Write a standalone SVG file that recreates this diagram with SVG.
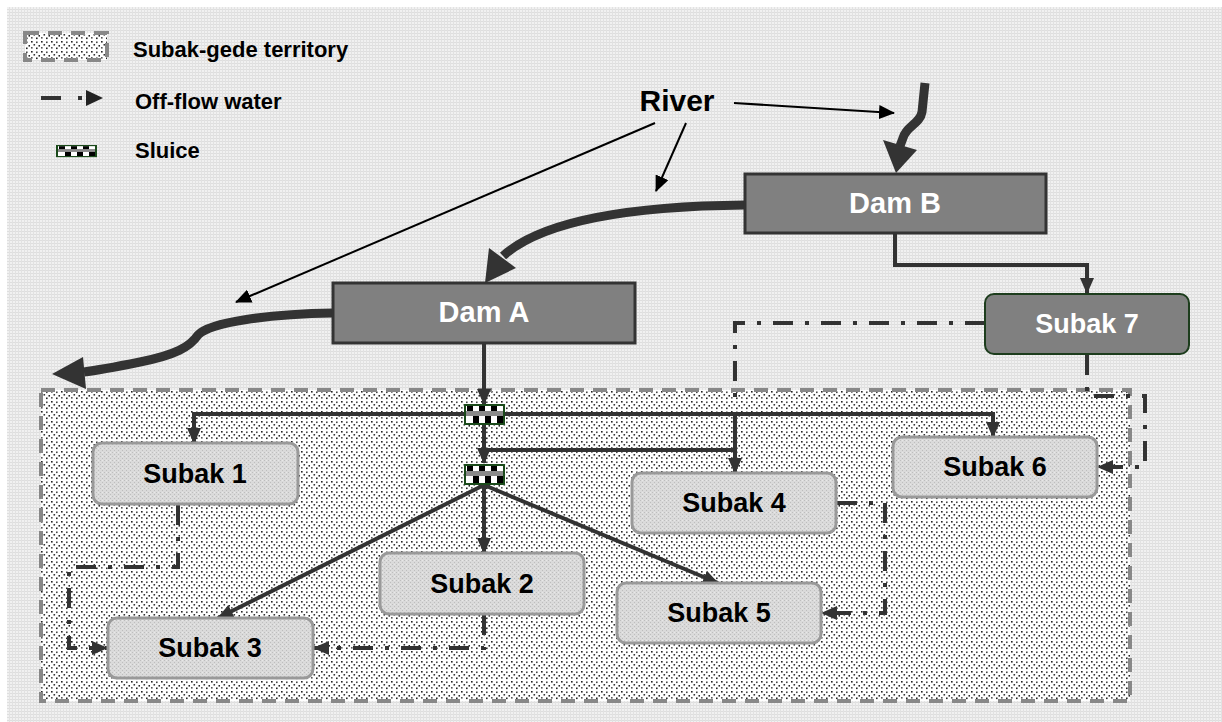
<svg xmlns="http://www.w3.org/2000/svg" width="1222" height="722" viewBox="0 0 1222 722">
<style>
.lbl{font-family:"Liberation Sans",Arial,sans-serif;font-weight:bold;}
.dam{fill:#808080;stroke:#333;stroke-width:3;}
.damt{fill:#fff;font-size:29px;text-anchor:middle;}
.sub{fill:url(#hatch);stroke:#999;stroke-width:3;}
.subt{fill:#000;font-size:27px;text-anchor:middle;}
.s7{fill:#808080;stroke:#1d3d1d;stroke-width:2;}
.flow{fill:none;stroke:#333;stroke-width:4;}
.off{fill:none;stroke:#333;stroke-width:4;stroke-dasharray:20 12 4 12;}
.river{fill:none;stroke:#333;stroke-width:9;}
.rhead{fill:#333;}
.thin{fill:none;stroke:#000;stroke-width:2;}
.leg{fill:#000;font-size:22px;}
.terr{fill:url(#dots);stroke:#888;stroke-width:4;stroke-dasharray:14 9;}
</style>
<defs>
<pattern id="grid" width="3" height="3" patternUnits="userSpaceOnUse">
<rect width="3" height="3" fill="#f1f1f1"/>
<rect width="3" height="1" fill="#dedede"/>
<rect width="1" height="3" fill="#e2e2e2"/>
</pattern>
<pattern id="dots" width="10" height="10" patternUnits="userSpaceOnUse">
<rect width="10" height="10" fill="#fff"/>
<rect x="1" y="1" width="1.6" height="1.6" fill="#222"/>
<rect x="6" y="1.5" width="1.6" height="1.6" fill="#444"/>
<rect x="3.5" y="4" width="1.6" height="1.6" fill="#333"/>
<rect x="8.5" y="5" width="1.6" height="1.6" fill="#222"/>
<rect x="1" y="7" width="1.6" height="1.6" fill="#555"/>
<rect x="6" y="7.5" width="1.6" height="1.6" fill="#222"/>
</pattern>
<pattern id="hatch" width="4" height="4" patternUnits="userSpaceOnUse">
<rect width="4" height="4" fill="#dadada"/>
<rect x="0" y="0" width="1" height="1" fill="#bdbdbd"/>
<rect x="2" y="2" width="1" height="1" fill="#bdbdbd"/>
<rect x="2" y="0" width="1" height="1" fill="#e8e8e8"/>
</pattern>
<g id="sluiceG">
<rect x="0" y="0" width="41" height="21" fill="#fff"/>
<rect x="3" y="2" width="6" height="8" fill="#000"/>
<rect x="15" y="2" width="6" height="8" fill="#000"/>
<rect x="27" y="2" width="6" height="8" fill="#000"/>
<rect x="9" y="11" width="6" height="8" fill="#000"/>
<rect x="21" y="11" width="6" height="8" fill="#000"/>
<rect x="33" y="11" width="6" height="8" fill="#000"/>
<rect x="0" y="7" width="41" height="5" fill="#8a8a8a"/>
<rect x="1" y="1" width="39" height="19" fill="none" stroke="#1a4a1a" stroke-width="2"/>
</g>
<marker id="ah" markerUnits="userSpaceOnUse" markerWidth="16" markerHeight="16" viewBox="0 0 16 16" refX="15" refY="8" orient="auto">
<path d="M0,1 L16,8 L0,15 z" fill="#333"/>
</marker>
<marker id="ahThin" markerUnits="userSpaceOnUse" markerWidth="16" markerHeight="14" viewBox="0 0 16 14" refX="15" refY="7" orient="auto">
<path d="M0,0 L16,7 L0,14 z" fill="#000"/>
</marker>
</defs>

<rect x="0" y="0" width="1222" height="722" fill="#fff"/>
<rect x="7" y="7" width="1215" height="715" fill="url(#grid)"/>

<g id="legend">
<rect class="terr" x="25" y="33" width="82" height="27" stroke-width="3.5" stroke-dasharray="14 10"/>
<text class="lbl leg" x="133" y="57">Subak-gede territory</text>
<path d="M41,98 L61,98" stroke="#333" stroke-width="4"/>
<rect x="78" y="96" width="4" height="4" fill="#333"/>
<path d="M86,90 L103,98 L86,106 z" fill="#222"/>
<text class="lbl leg" x="135" y="109">Off-flow water</text>
<use href="#sluiceG" transform="translate(56,145) scale(1,0.58)"/>
<text class="lbl leg" x="135" y="158">Sluice</text>
</g>

<g id="territory">
<rect class="terr" x="41" y="390" width="1089" height="311"/>
</g>

<g id="connectors">
<!-- river -->
<path class="river" d="M925,83 L922,112 C920,124 906,126 903,138 L900,146"/>
<polygon class="rhead" points="883,140 917,150 896,173"/>
<path class="river" d="M745,205 C640,206 545,218 503,256"/>
<polygon class="rhead" points="489,248 516,268 485,283"/>
<path class="river" d="M333,313 C270,314 210,322 198,335 C190,347 175,355 140,362 C115,367 100,370 84,372"/>
<polygon class="rhead" points="83,357 86,389 52,374"/>
<!-- river label pointers -->
<path class="thin" d="M734,103 L894,113" marker-end="url(#ahThin)"/>
<path class="thin" d="M686,123 L656,191" marker-end="url(#ahThin)"/>
<path class="thin" d="M655,123 L236,302" marker-end="url(#ahThin)"/>
<!-- dam B to subak 7 -->
<path class="flow" d="M895,233 L895,265 L1087,265 L1087,293" marker-end="url(#ah)"/>
<!-- dam A to sluice 1 -->
<path class="flow" d="M484,343 L484,404" marker-end="url(#ah)"/>
<!-- sluice 1 distribution -->
<path class="flow" d="M464,414 L194,414 L194,443" marker-end="url(#ah)"/>
<path class="flow" d="M505,414 L993,414 L993,437" marker-end="url(#ah)"/>
<path class="flow" d="M484,425 L484,463" marker-end="url(#ah)"/>
<path class="flow" d="M484,450 L735,450 L735,473" marker-end="url(#ah)"/>
<path class="flow" d="M735,414 L735,450"/>
<!-- sluice 2 distribution -->
<path class="flow" d="M484,485 L218,618" marker-end="url(#ah)"/>
<path class="flow" d="M484,485 L484,553" marker-end="url(#ah)"/>
<path class="flow" d="M484,485 L718,583" marker-end="url(#ah)"/>
<!-- off-flow -->
<path class="off" d="M178,505 L178,567 L69,567 L69,648 L107,648" marker-end="url(#ah)"/>
<path class="off" d="M484,615 L484,648 L314,648" marker-end="url(#ah)"/>
<path class="off" d="M837,503 L885,503 L885,613 L822,613" marker-end="url(#ah)"/>
<path class="off" d="M985,323 L735,323 L735,405"/>
<path class="off" d="M1087,355 L1087,396 L1145,396 L1145,467 L1098,467" marker-end="url(#ah)"/>
</g>

<g id="sluice1"><use href="#sluiceG" x="464" y="404"/></g>
<g id="sluice2"><use href="#sluiceG" x="464" y="464"/></g>

<g id="damB">
<rect class="dam" x="745" y="174" width="301" height="59"/>
<text class="lbl damt" x="895" y="213">Dam B</text>
</g>
<g id="damA">
<rect class="dam" x="333" y="283" width="302" height="60"/>
<text class="lbl damt" x="484" y="322">Dam A</text>
</g>
<g id="subak7">
<rect class="s7" x="985" y="294" width="204" height="60" rx="9"/>
<text class="lbl damt" x="1087" y="333" style="font-size:27px">Subak 7</text>
</g>
<g id="subak1">
<rect class="sub" x="93" y="443" width="205" height="61" rx="9"/>
<text class="lbl subt" x="195" y="483">Subak 1</text>
</g>
<g id="subak2">
<rect class="sub" x="380" y="553" width="204" height="61" rx="9"/>
<text class="lbl subt" x="482" y="593">Subak 2</text>
</g>
<g id="subak3">
<rect class="sub" x="108" y="618" width="205" height="60" rx="9"/>
<text class="lbl subt" x="210" y="657">Subak 3</text>
</g>
<g id="subak4">
<rect class="sub" x="632" y="473" width="204" height="60" rx="9"/>
<text class="lbl subt" x="734" y="512">Subak 4</text>
</g>
<g id="subak5">
<rect class="sub" x="617" y="583" width="204" height="60" rx="9"/>
<text class="lbl subt" x="719" y="622">Subak 5</text>
</g>
<g id="subak6">
<rect class="sub" x="893" y="437" width="204" height="60" rx="9"/>
<text class="lbl subt" x="995" y="476">Subak 6</text>
</g>

<g id="riverLabel">
<text class="lbl" x="677" y="111" font-size="30" text-anchor="middle">River</text>
</g>
</svg>
